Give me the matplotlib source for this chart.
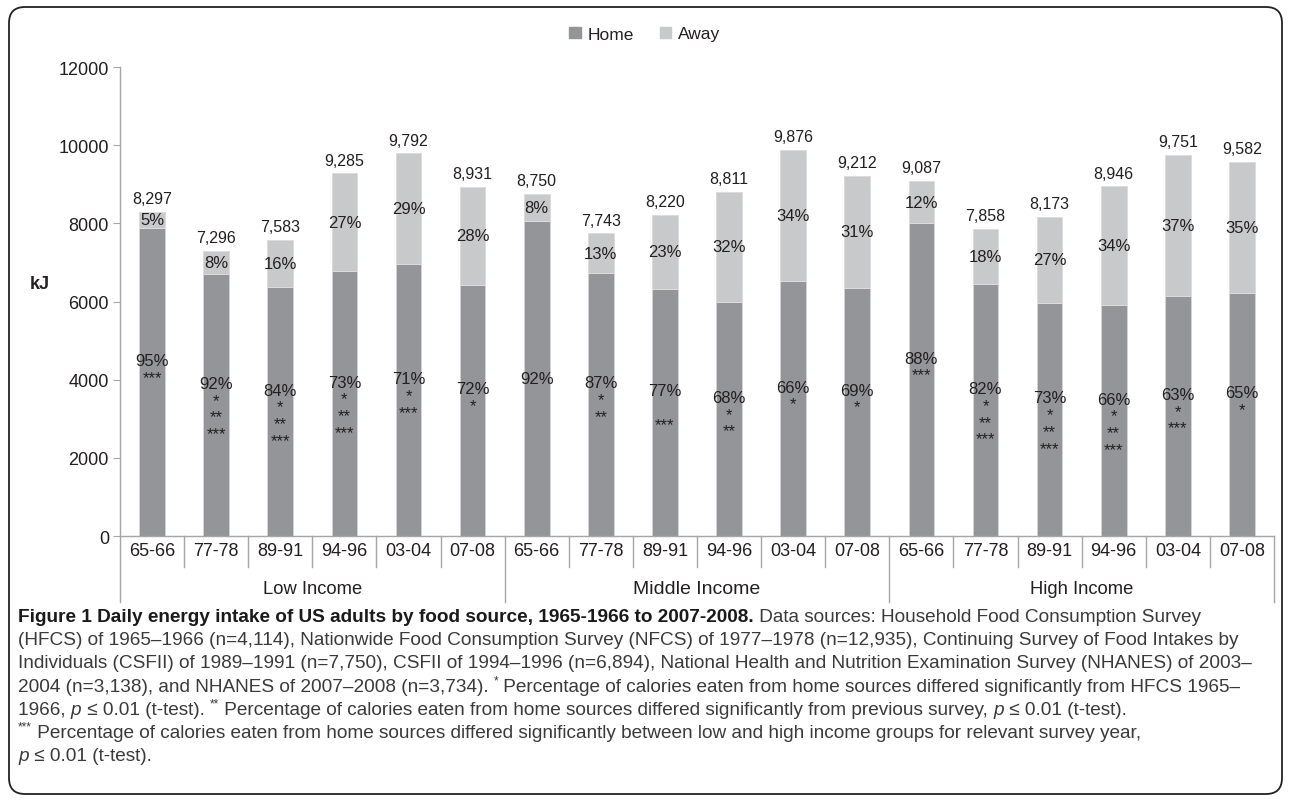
import matplotlib
matplotlib.use('Agg')
import matplotlib.pyplot as plt
import matplotlib.transforms as mtransforms
from matplotlib import font_manager
from matplotlib.patches import FancyBboxPatch, Patch

# survey years and income groups
years = ['65-66', '77-78', '89-91', '94-96', '03-04', '07-08']
groups = ['Low Income', 'Middle Income', 'High Income']

# total daily energy intake (kJ), per group x year
total_kj = [8297, 7296, 7583, 9285, 9792, 8931,
            8750, 7743, 8220, 8811, 9876, 9212,
            9087, 7858, 8173, 8946, 9751, 9582]
home_pct = [95, 92, 84, 73, 71, 72,
            92, 87, 77, 68, 66, 69,
            88, 82, 73, 66, 63, 65]
away_pct = [5, 8, 16, 27, 29, 28,
            8, 13, 23, 32, 34, 31,
            12, 18, 27, 34, 37, 35]
# significance marks under the home percentage
stars = ['***', '*\n**\n***', '*\n**\n***', '*\n**\n***', '*\n***', '*',
         '', '*\n**', '\n***', '*\n**', '*', '*',
         '***', '*\n**\n***', '*\n**\n***', '*\n**\n***', '*\n***', '*']

home_kj = [t * p / 100 for t, p in zip(total_kj, home_pct)]
away_kj = [t - h for t, h in zip(total_kj, home_kj)]

HOME = '#939598'
AWAY = '#c8c9cb'
TXT = '#231f20'
AXC = '#a6a6a6'

plt.rcParams['font.family'] = ['Liberation Sans', 'DejaVu Sans']

W, H = 1290, 803
fig = plt.figure(figsize=(W / 100, H / 100), dpi=100)
ax = fig.add_axes([120 / W, 1 - 537 / H, (1274 - 120) / W, (537 - 68) / H])

x = list(range(len(total_kj)))
ax.bar(x, home_kj, width=0.4, color=HOME, edgecolor='#d4d4d6', linewidth=0.7)
ax.bar(x, away_kj, width=0.4, bottom=home_kj, color=AWAY, edgecolor='#dcdcdd', linewidth=0.7)

for i in x:
    ax.annotate(f'{total_kj[i]:,}', (i, total_kj[i]), xytext=(0, 4), textcoords='offset points',
                ha='center', va='bottom', fontsize=11.5, color=TXT)
    ax.text(i, home_kj[i] + away_kj[i] / 2, f'{away_pct[i]}%', ha='center', va='center',
            fontsize=12, color=TXT)
    if stars[i]:
        # percentage line sits a little above the middle, marks hang below it
        ax.annotate(f'{home_pct[i]}%\n{stars[i]}', (i, home_kj[i] / 2), xytext=(0, 29),
                    textcoords='offset pixels', ha='center', va='top', fontsize=12,
                    color=TXT, linespacing=1.15)
    else:
        ax.text(i, home_kj[i] / 2, f'{home_pct[i]}%', ha='center', va='center',
                fontsize=12, color=TXT)

ax.set_xlim(-0.5, len(x) - 0.5)
ax.set_ylim(0, 12000)
ax.set_yticks(range(0, 12001, 2000))
ax.tick_params(axis='y', length=5, color=AXC, labelsize=13, labelcolor=TXT, pad=3)
ax.set_xticks([])
for s in ['top', 'right']:
    ax.spines[s].set_visible(False)
for s in ['left', 'bottom']:
    ax.spines[s].set_color(AXC)
    ax.spines[s].set_linewidth(1.0)

# two-level category axis
trans = mtransforms.blended_transform_factory(ax.transData, ax.transAxes)
px = 1 / 469
for i in x:
    ax.text(i, -15 * px, years[i % 6], transform=trans, ha='center', va='center',
            fontsize=13, color=TXT)
for b in range(len(x) + 1):
    low = -66 * px if b % 6 == 0 else -31 * px
    ax.plot([b - 0.5, b - 0.5], [0, low], transform=trans, color=AXC, lw=1.0, clip_on=False)
for g, name in enumerate(groups):
    ax.text(g * 6 + 2.5, -53 * px, name, transform=trans, ha='center', va='center',
            fontsize=14 if g == 1 else 13.2, color=TXT)

fig.text(40 / W, 1 - 285 / H, 'kJ', fontsize=13, fontweight='bold', color=TXT,
         ha='center', va='center')

handles = [Patch(color=HOME, label='Home'), Patch(color=AWAY, label='Away')]
fig.legend(handles=handles, loc='center', bbox_to_anchor=(645 / W, 1 - 35 / H), ncol=2,
           frameon=False, fontsize=12.5, handlelength=0.65, handleheight=0.65,
           handletextpad=0.4, columnspacing=1.5, labelcolor=TXT)

# rounded frame
frame = FancyBboxPatch((9, 8), 1273, 787, boxstyle='round,pad=0,rounding_size=16',
                       transform=mtransforms.IdentityTransform(), fill=False,
                       edgecolor='#222222', lw=1.3)
fig.patches.append(frame)

# caption
names = {f.name for f in font_manager.fontManager.ttflist}
cap_family = 'Liberation Sans Narrow' if 'Liberation Sans Narrow' in names else 'Liberation Sans'
CAP = '#3a3a3a'
renderer = fig.canvas.get_renderer()
ident = mtransforms.IdentityTransform()


def seg_width(txt, **kw):
    t1 = fig.text(0, 0, '|' + txt + '|', transform=ident, **kw)
    t2 = fig.text(0, 0, '||', transform=ident, **kw)
    w = t1.get_window_extent(renderer).width - t2.get_window_extent(renderer).width
    t1.remove()
    t2.remove()
    return w


def seg_kw(kind, size):
    kw = dict(fontsize=size, color=CAP, family=[cap_family, 'DejaVu Sans'])
    if kind == 'b':
        kw['fontweight'] = 'bold'
        kw['color'] = '#1a1a1a'
    if kind == 'i':
        kw['fontstyle'] = 'italic'
    if kind == 's':
        kw['fontsize'] = size * 0.62
    return kw


cap_lines = [
    [('Figure 1 Daily energy intake of US adults by food source, 1965-1966 to 2007-2008.', 'b'),
     (' Data sources: Household Food Consumption Survey', 'n')],
    [('(HFCS) of 1965\u20131966 (n=4,114), Nationwide Food Consumption Survey (NFCS) of 1977\u20131978 '
      '(n=12,935), Continuing Survey of Food Intakes by', 'n')],
    [('Individuals (CSFII) of 1989\u20131991 (n=7,750), CSFII of 1994\u20131996 (n=6,894), National Health '
      'and Nutrition Examination Survey (NHANES) of 2003\u2013', 'n')],
    [('2004 (n=3,138), and NHANES of 2007\u20132008 (n=3,734). ', 'n'), ('*', 's'),
     (' Percentage of calories eaten from home sources differed significantly from HFCS 1965\u2013', 'n')],
    [('1966, ', 'n'), ('p', 'i'), (' \u2264 0.01 (t-test). ', 'n'), ('**', 's'),
     (' Percentage of calories eaten from home sources differed significantly from previous survey, ', 'n'),
     ('p', 'i'), (' \u2264 0.01 (t-test).', 'n')],
    [('***', 's'),
     (' Percentage of calories eaten from home sources differed significantly between low and high '
      'income groups for relevant survey year,', 'n')],
    [('p', 'i'), (' \u2264 0.01 (t-test).', 'n')],
]

# fit the caption size to the width of the second line
base = 10
w2 = seg_width(cap_lines[1][0][0], **seg_kw('n', base))
cap_size = base * (1240 - 18) / w2

for k, parts in enumerate(cap_lines):
    y = H - (622 + k * 23.2)
    xx = 18
    for txt, kind in parts:
        kw = seg_kw(kind, cap_size)
        yy = y + (cap_size * 0.55 if kind == 's' else 0)
        fig.text(xx, yy, txt, transform=ident, va='baseline', ha='left', **kw)
        xx += seg_width(txt, **kw)

fig.savefig('out.png', dpi=100)
